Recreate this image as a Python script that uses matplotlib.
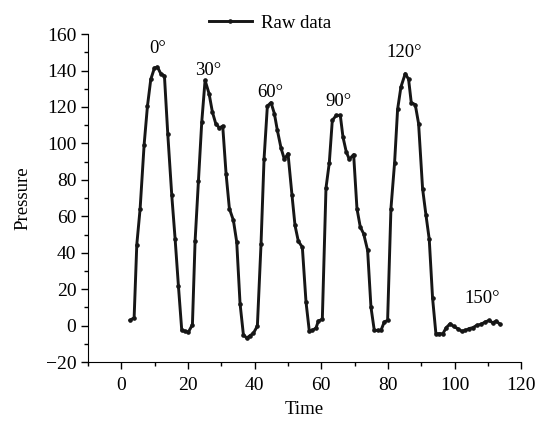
import matplotlib
matplotlib.use("Agg")
import matplotlib.pyplot as plt
from matplotlib.ticker import MultipleLocator

plt.rcParams['font.family'] = ['Liberation Serif', 'DejaVu Serif']

time = [2.6, 3.8, 4.6, 5.6, 6.8, 7.8, 8.8, 9.9, 10.8, 11.8,
        12.9, 13.9, 15.1, 16.1, 17.1, 18.1, 19.1, 20.1, 21.3, 22.1,
        23.1, 24.1, 25.1, 26.3, 27.3, 28.3, 29.4, 30.4, 31.4, 32.4,
        33.6, 34.6, 35.6, 36.6, 37.6, 38.6, 39.6, 40.8, 41.9, 42.8,
        43.8, 44.9, 45.9, 46.8, 47.9, 48.9, 50.0, 51.2, 52.1, 53.1,
        54.3, 55.4, 56.4, 57.3, 58.4, 59.1, 60.3, 61.4, 62.4, 63.3,
        64.5, 65.7, 66.5, 67.5, 68.4, 69.7, 70.7, 71.7, 72.7, 73.9,
        74.9, 75.9, 76.9, 77.9, 78.9, 79.9, 80.9, 82.0, 82.9, 83.9,
        85.2, 86.2, 87.0, 88.2, 89.2, 90.4, 91.4, 92.4, 93.4, 94.4,
        95.4, 96.5, 97.5, 98.7, 99.7, 100.9, 102.2, 103.2, 104.4, 105.5,
        106.7, 107.9, 109.2, 110.4, 111.4, 112.5, 113.7]

pressure = [2.9, 4.4, 44.5, 64.2, 99.3, 120.5, 135.2, 141.4, 141.9, 138.3,
            137.0, 105.2, 71.5, 47.7, 21.7, -2.6, -3.1, -3.5, 0.5, 46.3,
            79.2, 111.7, 134.6, 127.3, 117.2, 110.9, 108.5, 109.5, 83.4, 64.2,
            57.8, 45.9, 12.1, -4.9, -6.8, -5.5, -4.2, -0.2, 45.0, 91.3,
            120.5, 122.4, 116.4, 107.2, 97.5, 91.3, 94.4, 71.5, 55.0, 46.3,
            43.1, 13.0, -3.1, -2.6, -1.3, 2.5, 3.5, 75.5, 89.5, 112.7,
            115.4, 115.4, 103.5, 95.3, 91.3, 93.9, 64.2, 54.1, 50.5, 41.3,
            10.2, -2.6, -2.6, -2.6, 2.0, 2.9, 64.2, 89.5, 118.7, 131.0,
            138.3, 135.2, 122.4, 121.3, 110.9, 75.2, 60.9, 47.4, 15.1, -4.4,
            -4.4, -4.4, -1.1, 1.1, -0.4, -1.6, -3.1, -2.6, -1.6, -1.1,
            0.2, 0.7, 2.0, 2.9, 1.6, 2.5, 0.7]

angle_labels = ["0°", "30°", "60°", "90°", "120°", "150°"]
angle_x = [11.0, 26.0, 44.6, 65.1, 84.9, 108.3]
angle_y = [152, 140, 128, 123, 150, 15]

fig = plt.figure(figsize=(5.58, 4.26), dpi=100)
ax = fig.add_axes([0.158, 0.150, 0.776, 0.770])

ax.plot(time, pressure, color='#161616', lw=2.1, marker='o', ms=2.3,
        label='Raw data')

for lab, x, y in zip(angle_labels, angle_x, angle_y):
    ax.text(x, y, lab, ha='center', va='center', fontsize=13.5)

ax.set_xlim(-10, 120)
ax.set_ylim(-20, 160)
ax.xaxis.set_major_locator(MultipleLocator(20))
ax.xaxis.set_minor_locator(MultipleLocator(10))
ax.yaxis.set_major_locator(MultipleLocator(20))
ax.yaxis.set_minor_locator(MultipleLocator(10))
ax.spines['top'].set_visible(False)
ax.spines['right'].set_visible(False)
ax.tick_params(which='major', direction='out', length=5, width=1,
               labelsize=14)
ax.tick_params(axis='x', which='major', pad=6)
ax.tick_params(which='minor', direction='out', length=3, width=1)
ax.set_xlabel('Time', fontsize=13.5, labelpad=5)
ax.set_ylabel('Pressure', fontsize=13.5, labelpad=10)

ax.legend(loc='lower center', bbox_to_anchor=(0.42, 0.985), frameon=False,
          fontsize=13.5, handlelength=2.3, handletextpad=0.5, borderaxespad=0)

fig.savefig('out.png', dpi=100)
